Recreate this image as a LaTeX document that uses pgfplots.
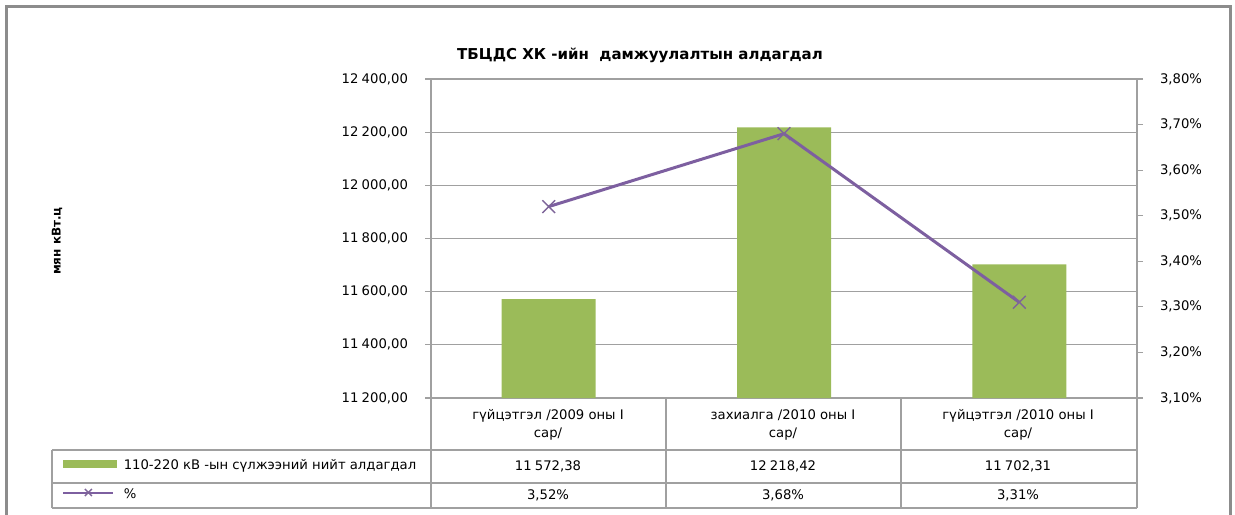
\documentclass[border=0pt]{standalone}
\usepackage{fontspec}
\setmainfont{DejaVu Sans}
\usepackage{pgfplots}
\pgfplotsset{compat=1.18}
\definecolor{barcol}{HTML}{9BBB59}
\definecolor{linecol}{HTML}{7D5FA0}
\definecolor{gridcol}{HTML}{A0A0A0}
\definecolor{framecol}{HTML}{8C8C8C}
\newcommand\sfont{\fontsize{6.6}{9}\selectfont}
\begin{document}
\begin{tikzpicture}
\path[use as bounding box] (0,0) rectangle (617.5pt,257pt);
% frame, title and table (1 unit = 1 px of the reference, y down)
\begin{scope}[yshift=257pt, x=0.5pt, y=-0.5pt]
  \draw[framecol, line width=1.5pt] (6,7) rectangle (1230,540);
  \node[font=\bfseries\fontsize{7.5}{9}\selectfont] at (640,55) {ТБЦДС ХК -ийн\ \ дамжуулалтын алдагдал};
  \node[rotate=90, font=\bfseries\fontsize{6}{7}\selectfont] at (57,241) {мян кВт.ц};
  % table grid
  \draw[gridcol, line width=0.6pt]
    (431,398) -- (431,508) (666,398) -- (666,508) (901,398) -- (901,508) (1137,398) -- (1137,508)
    (52,450) -- (52,508)
    (52,450) -- (1137,450) (52,483) -- (1137,483) (52,508) -- (1137,508);
  \node[align=center, font=\sfont] at (548,425) {гүйцэтгэл /2009 оны I\\сар/};
  \node[align=center, font=\sfont] at (783,425) {захиалга /2010 оны I\\сар/};
  \node[align=center, font=\sfont] at (1018,425) {гүйцэтгэл /2010 оны I\\сар/};
  \node[font=\sfont] at (548,466) {11\hspace{0.25em}572,38};
  \node[font=\sfont] at (783,466) {12\hspace{0.25em}218,42};
  \node[font=\sfont] at (1018,466) {11\hspace{0.25em}702,31};
  \node[font=\sfont] at (548,495) {3,52\%};
  \node[font=\sfont] at (783,495) {3,68\%};
  \node[font=\sfont] at (1018,495) {3,31\%};
\end{scope}

\begin{axis}[
  at={(215.5pt,58pt)}, anchor=south west,
  scale only axis, width=353pt, height=159.5pt,
  xmin=-0.5, xmax=2.5, ymin=11200, ymax=12400,
  ytick={11200,11400,...,12400}, xtick=\empty,
  scaled y ticks=false,
  axis x line*=bottom, axis y line*=left,
  axis line style={gridcol, line width=0.6pt, -},
  ymajorgrids, grid style={gridcol, line width=0.6pt},
  tick align=outside, major tick length=3pt,
  tick style={gridcol, line width=0.6pt},
  yticklabel style={font=\sfont, xshift=-5pt,
    /pgf/number format/fixed, /pgf/number format/fixed zerofill,
    /pgf/number format/precision=2, /pgf/number format/use comma,
    /pgf/number format/1000 sep={\hspace{0.25em}},
    /pgf/number format/assume math mode=true},
  ybar, bar width=47pt,
]
\addplot[fill=barcol, draw=none] coordinates {(0,11572.38) (1,12218.42) (2,11702.31)};
\end{axis}

\begin{axis}[
  at={(215.5pt,58pt)}, anchor=south west,
  scale only axis, width=353pt, height=159.5pt,
  xmin=-0.5, xmax=2.5, ymin=3.1, ymax=3.8,
  ytick={3.1,3.2,3.3,3.4,3.5,3.6,3.7,3.8},
  axis x line=none, axis y line*=right,
  axis line style={gridcol, line width=0.6pt, -},
  tick align=outside, major tick length=3pt,
  tick style={gridcol, line width=0.6pt},
  yticklabel={\pgfmathprintnumber[fixed,fixed zerofill,precision=2,use comma,assume math mode=true]{\tick}\%},
  yticklabel style={font=\sfont, xshift=5pt},
  legend style={draw=none, fill=none, font=\sfont,
    at={(axis description cs:-0.5227,-0.2571)}, anchor=west,
    inner sep=0pt, row sep=8pt, column sep=3.5pt,
    nodes={inner sep=0pt, text height=5pt, text depth=1.5pt}},
  legend cell align=left,
]
\addlegendimage{legend image code/.code={\fill[barcol] (0pt,-0.75pt) rectangle (26.5pt,2.75pt);}}
\addlegendentry{110-220 кВ -ын сүлжээний нийт алдагдал}
\addplot[linecol, line width=1.5pt, mark=x, mark size=4.5pt,
  mark options={line width=0.7pt, draw=linecol!80!gray},
  legend image code/.code={\draw[line width=1pt, mark repeat=2, mark phase=2, mark size=2.5pt]
    plot coordinates {(0pt,1pt) (12.5pt,1pt) (25pt,1pt)};}]
  coordinates {(0,3.52) (1,3.68) (2,3.31)};
\addlegendentry{\%}
\end{axis}
\end{tikzpicture}
\end{document}
